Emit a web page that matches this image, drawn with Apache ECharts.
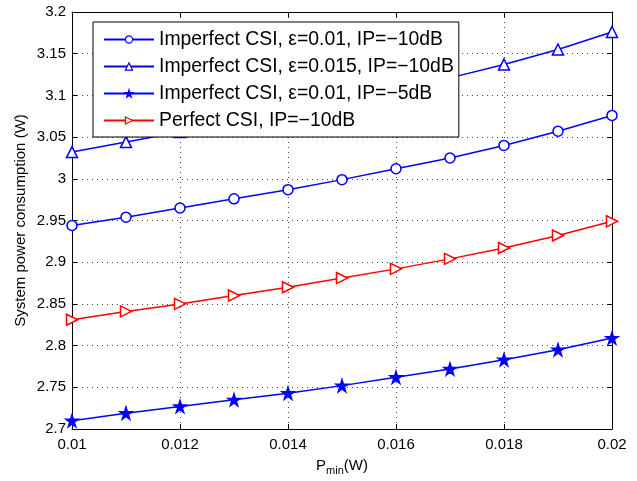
<!DOCTYPE html>
<html>
<head>
<meta charset="utf-8">
<script src="https://cdn.jsdelivr.net/npm/echarts@6/dist/echarts.min.js"></script>
<style>
  html, body { margin: 0; padding: 0; background: #fff; }
  #chart { width: 637px; height: 481px; }
</style>
</head>
<body>
<div id="chart"></div>
<script>
// data
var pmin = [0.01, 0.011, 0.012, 0.013, 0.014, 0.015, 0.016, 0.017, 0.018, 0.019, 0.02];
var names = [
  'Imperfect CSI, \u03b5=0.01, IP=\u221210dB',
  'Imperfect CSI, \u03b5=0.015, IP=\u221210dB',
  'Imperfect CSI, \u03b5=0.01, IP=\u22125dB',
  'Perfect CSI, IP=\u221210dB'
];
var circleVals = [2.944, 2.954, 2.965, 2.976, 2.987, 2.999, 3.012, 3.025, 3.040, 3.057, 3.076];
var triVals = [3.032, 3.044, 3.056, 3.068, 3.081, 3.094, 3.107, 3.121, 3.137, 3.155, 3.176];
var starVals = [2.710, 2.719, 2.727, 2.735, 2.743, 2.752, 2.762, 2.772, 2.783, 2.795, 2.809];
var perfectVals = [2.831, 2.841, 2.850, 2.860, 2.870, 2.881, 2.892, 2.904, 2.917, 2.932, 2.949];

var starPath = 'path://M50,0 L61.8,36.2 L100,36.2 L69.1,58.6 L80.9,95.1 L50,72.7 L19.1,95.1 L30.9,58.6 L0,36.2 L38.2,36.2 Z';

var myChart = echarts.init(document.getElementById('chart'));

function pairs(vals) {
  var res = [];
  for (var i = 0; i < pmin.length; i++) res.push([pmin[i], vals[i]]);
  return res;
}

function mkSeries(name, vals, color, symbol, size, filled, rotate) {
  return {
    name: name,
    type: 'line',
    data: pairs(vals),
    symbol: symbol,
    symbolSize: size,
    symbolRotate: rotate || 0,
    showAllSymbol: true,
    lineStyle: { color: color, width: 1.5 },
    itemStyle: { color: filled ? color : '#fff', borderColor: color, borderWidth: 1.5 },
    emphasis: { disabled: true },
    animation: false
  };
}

var font = 'Liberation Sans, Arial, sans-serif';
var axisCommon = {
  axisLine: { show: true, lineStyle: { color: '#000', width: 1 } },
  axisTick: { show: true, inside: true, length: 5, lineStyle: { color: '#000' } }
};

var options = {
  backgroundColor: '#fff',
  animation: false,
  grid: { left: 72, right: 25, top: 12, bottom: 49 },
  legend: {
    orient: 'vertical',
    left: 93, top: 22,
    padding: [8, 5, 7, 10],
    itemGap: 8,
    itemWidth: 50,
    itemHeight: 9,
    itemStyle: { borderWidth: 1.2 },
    backgroundColor: '#fff',
    borderColor: '#000',
    borderWidth: 1,
    borderRadius: 0,
    textStyle: { fontFamily: font, fontSize: 19.4, color: '#000' },
    data: names
  },
  xAxis: [
    Object.assign({
      type: 'value', min: 0.01, max: 0.02, interval: 0.002,
      name: '{p|P}{s|min}{p|(W)}', nameLocation: 'middle', nameGap: 26,
      nameTextStyle: {
        rich: {
          p: { fontFamily: font, fontSize: 15, color: '#000' },
          s: { fontFamily: font, fontSize: 11, color: '#000', verticalAlign: 'bottom', padding: [10, 0, 0, 0] }
        }
      },
      axisLabel: {
        fontFamily: font, fontSize: 15, color: '#000', margin: 8,
        formatter: function (v) { return String(parseFloat(v.toFixed(3))); }
      },
      splitLine: { show: true, lineStyle: { color: '#444', type: [1, 4], width: 1 } }
    }, axisCommon),
    Object.assign({
      type: 'value', position: 'top', min: 0.01, max: 0.02, interval: 0.002,
      axisLabel: { show: false }, splitLine: { show: false }
    }, axisCommon)
  ],
  yAxis: [
    Object.assign({
      type: 'value', min: 2.7, max: 3.2, interval: 0.05,
      name: 'System power consumption (W)', nameLocation: 'middle', nameGap: 44,
      nameMoveOverlap: false,
      nameTextStyle: { fontFamily: font, fontSize: 15, color: '#000' },
      axisLabel: {
        fontFamily: font, fontSize: 15, color: '#000', margin: 6,
        formatter: function (v) { return String(parseFloat(v.toFixed(2))); }
      },
      splitLine: { show: true, lineStyle: { color: '#444', type: [1, 4], width: 1 } }
    }, axisCommon),
    Object.assign({
      type: 'value', position: 'right', min: 2.7, max: 3.2, interval: 0.05,
      axisLabel: { show: false }, splitLine: { show: false }
    }, axisCommon)
  ],
  series: [
    mkSeries(names[0], circleVals, '#0000ff', 'circle', 10, false),
    mkSeries(names[1], triVals, '#0000ff', 'triangle', 11, false),
    mkSeries(names[2], starVals, '#0000ff', starPath, 12, true),
    mkSeries(names[3], perfectVals, '#ff0000', 'triangle', 11, false, -90)
  ]
};

myChart.setOption(options);
</script>
</body>
</html>
